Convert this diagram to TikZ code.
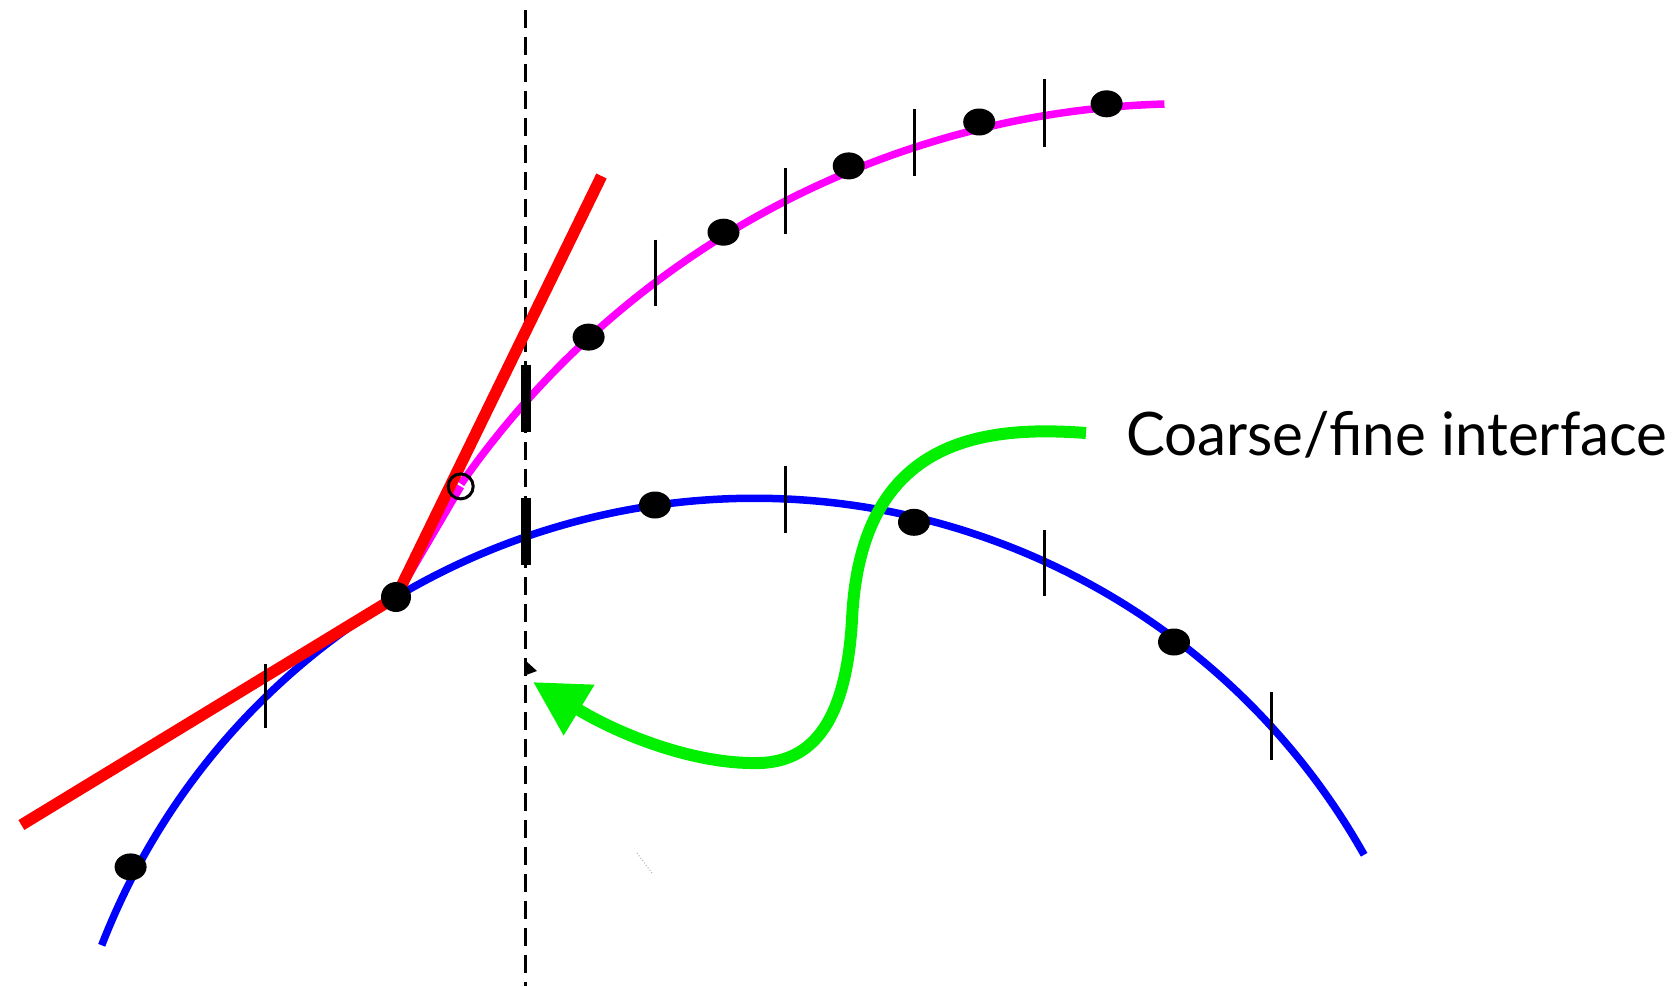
\documentclass[tikz,border=0pt]{standalone}
\usepackage{fontspec}
\setmainfont{Lato}
\usetikzlibrary{arrows.meta}
\definecolor{cblue}{RGB}{0,0,255}
\definecolor{cmag}{RGB}{255,0,255}
\definecolor{cred}{RGB}{255,0,0}
\definecolor{cgreen}{RGB}{0,240,0}
\begin{document}
\begin{tikzpicture}[x=1pt,y=-1pt,
  bluecurve/.style={draw=cblue, line width=7.5pt},
  magcurve/.style={draw=cmag, line width=7.5pt},
  redline/.style={draw=cred, line width=11.5pt},
  thintick/.style={draw=black, line width=3pt},
  thicktick/.style={draw=black, line width=10pt},
  dot/.style={fill=black},
  greenarrow/.style={draw=cgreen, line width=12pt, -{Triangle[length=54pt,width=56pt]}},
  dashline/.style={draw=black, line width=3pt, dash pattern=on 18pt off 9pt}
]
\useasboundingbox (0,0) rectangle (1678,986);
% dashed interface line
\coordinate (dtop) at (525.5,10);
\coordinate (dbot) at (525.5,986);
\draw[dashline] (dtop) -- (dbot);
% key points
\coordinate (P) at (396,597);
\coordinate (rl) at (21.4,825);
\coordinate (ru) at (601.5,176);
\coordinate (oc) at (460.7,486.4);
\coordinate (bc) at (754.3,1198.4);
\coordinate (mc) at (1190,992.4);
% blue curve (circular arc)
\draw[bluecurve] (bc) ++(201.2:700) arc (201.2:330.6:700);
% magenta curve
\draw[magcurve] (P) -- (oc);
\draw[magcurve] (mc) ++(214.9:888.8) arc (214.9:268.35:888.8);
% red tangent lines
\draw[redline] (rl) -- (P) -- (ru);
% thin ticks
\foreach \x/\a/\b in {265.4/663.5/727.7, 785.5/465.5/533, 1044.5/529.7/596, 1271.4/692.4/759.8, 655/239.7/306, 785.5/168/234.4, 914/109.2/175.5, 1044.5/79.2/146.6}
  \draw[thintick] (\x,\a) -- (\x,\b);
% thick ticks on the interface
\draw[thicktick] (525.5,365) -- (525.5,431.7);
\draw[thicktick] (525.5,498) -- (525.5,565);
% dots
\foreach \x/\y in {130.6/866.9, 655/505, 914/522.3, 1174/642, 588.6/337.1, 723.5/232.2, 848.7/165.9, 979.2/122, 1106.6/103.8}
  \fill[dot] (\x,\y) ellipse (16 and 13.5);
\fill[dot] (P) circle (15);
\draw[line width=3pt] (oc) circle (12.5);
% small marks
\fill (526,661) -- (537,671) -- (526,675) -- cycle;
\draw[gray!60, line width=1pt, dotted] (637,853) -- (652,873);
% label and arrow
\node[anchor=base west, inner sep=0pt, font=\fontsize{60}{72}\selectfont] (lbl) at (1126,455) {\resizebox{541pt}{\height}{Coarse/fine interface}};
\coordinate (gs) at (1086,433);
\coordinate (gt) at (533,682);
\draw[greenarrow] (gs) .. controls (980,425) and (860,440) .. (852,620) .. controls (845,740) and (800,765) .. (750,763) .. controls (690,762) and (620,735) .. (gt);
\end{tikzpicture}
\end{document}
